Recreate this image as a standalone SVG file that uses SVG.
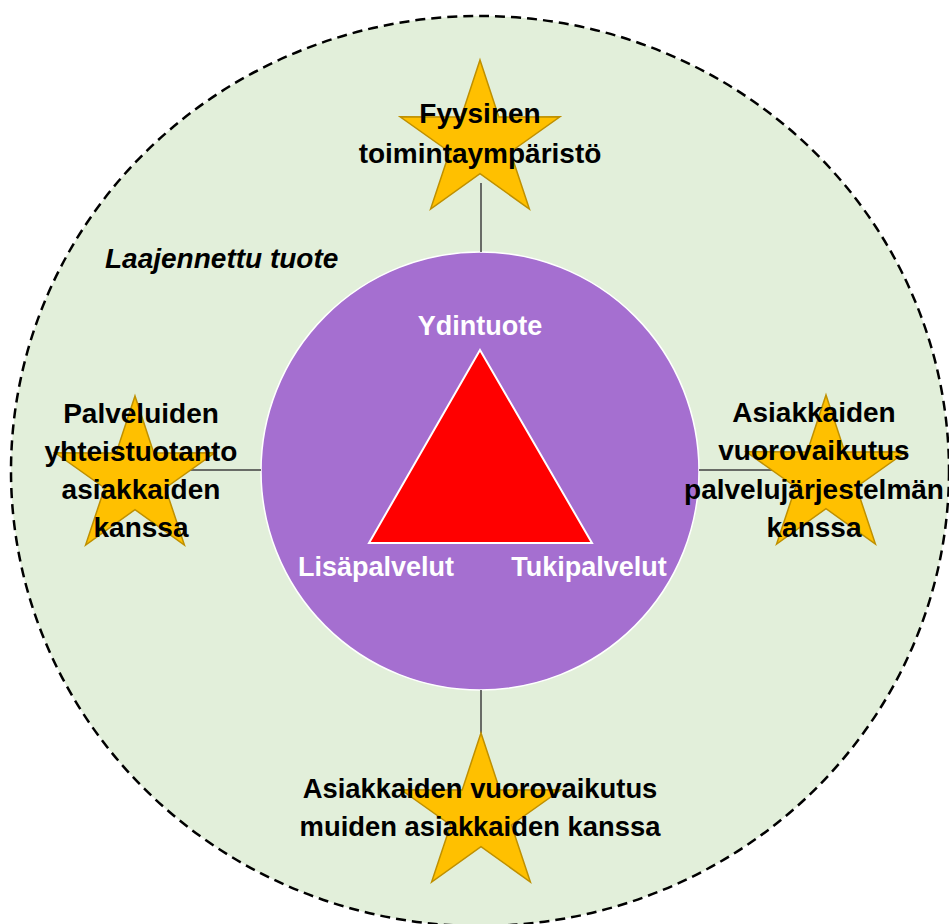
<svg xmlns="http://www.w3.org/2000/svg" width="949" height="924" viewBox="0 0 949 924">
  <style>
    .lbl { font-family: "Liberation Sans", Arial, sans-serif; font-weight: bold; font-size: 28px; fill: #000; text-anchor: middle; }
    .lbl-b { font-size: 27.4px; }
    .inner { font-family: "Liberation Sans", Arial, sans-serif; font-weight: bold; font-size: 27px; fill: #ffffff; text-anchor: middle; }
    .star { fill: #FFC000; stroke: #BF9000; stroke-width: 1.5; stroke-linejoin: miter; }
    .conn { stroke: #3F3F3F; stroke-width: 1.5; fill: none; }
  </style>
  <defs>
    <path id="starShape" d="M0,0 L18.8,56.9 L79.9,56.8 L30.4,92 L49.4,149 L0,113.7 L-49.4,149 L-30.4,92 L-79.9,56.8 L-18.8,56.9 Z"/>
  </defs>
  <rect width="949" height="924" fill="#ffffff"/>

  <g id="extended-product">
    <ellipse cx="480" cy="471" rx="469" ry="455" fill="#E2EFDA" stroke="#000000" stroke-width="2.5" stroke-dasharray="10 6"/>
    <text x="105" y="268" font-family="Liberation Sans, Arial, sans-serif" font-weight="bold" font-style="italic" font-size="28" fill="#000">Laajennettu tuote</text>
  </g>

  <g id="core-circle">
    <circle cx="480" cy="471" r="219" fill="#A56FD0" stroke="#ffffff" stroke-width="1.5"/>
  </g>

  <g id="core-triangle">
    <polygon points="480,350 369,543 592,543" fill="#FF0000" stroke="#ffffff" stroke-width="2"/>
    <text class="inner" x="480" y="335">Ydintuote</text>
    <text class="inner" x="376" y="576">Lisäpalvelut</text>
    <text class="inner" x="589" y="576">Tukipalvelut</text>
  </g>

  <g id="connectors">
    <line class="conn" x1="481" y1="183" x2="481" y2="252"/>
    <line class="conn" x1="188" y1="470" x2="261" y2="470"/>
    <line class="conn" x1="699" y1="470" x2="772" y2="470"/>
    <line class="conn" x1="481" y1="690" x2="481" y2="733"/>
  </g>

  <g id="star-top">
    <use href="#starShape" class="star" transform="translate(480,60)"/>
    <text class="lbl" x="480" y="123">Fyysinen</text>
    <text class="lbl" x="480" y="163">toimintaympäristö</text>
  </g>

  <g id="star-left">
    <use href="#starShape" class="star" transform="translate(135,396)"/>
    <text class="lbl" x="141" y="423">Palveluiden</text>
    <text class="lbl" x="141" y="461">yhteistuotanto</text>
    <text class="lbl" x="141" y="499">asiakkaiden</text>
    <text class="lbl" x="141" y="537">kanssa</text>
  </g>

  <g id="star-right">
    <use href="#starShape" class="star" transform="translate(826,395)"/>
    <text class="lbl" x="814" y="422">Asiakkaiden</text>
    <text class="lbl" x="814" y="460">vuorovaikutus</text>
    <text class="lbl" x="814" y="499">palvelujärjestelmän</text>
    <text class="lbl" x="814" y="537">kanssa</text>
  </g>

  <g id="star-bottom">
    <use href="#starShape" class="star" transform="translate(481,733)"/>
    <text class="lbl lbl-b" x="480" y="798">Asiakkaiden vuorovaikutus</text>
    <text class="lbl lbl-b" x="480" y="836">muiden asiakkaiden kanssa</text>
  </g>
</svg>
